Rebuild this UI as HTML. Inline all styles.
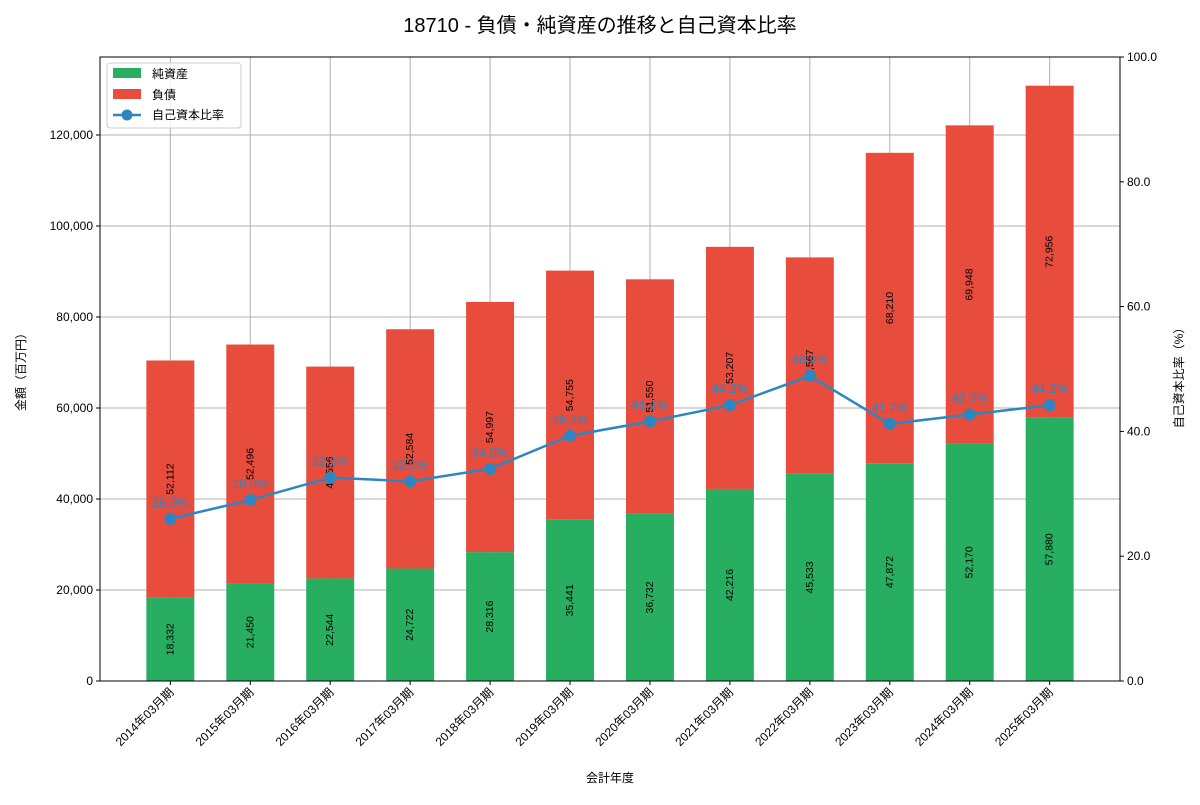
<!DOCTYPE html>
<html><head><meta charset="utf-8"><style>
body{margin:0;background:#fff;}
text{font-family:"Liberation Sans","Noto Sans CJK JP",sans-serif;}
</style></head><body>
<svg id="chart" width="1200" height="800" xmlns="http://www.w3.org/2000/svg"></svg>
<script>
const categories=["2014年03月期","2015年03月期","2016年03月期","2017年03月期","2018年03月期","2019年03月期","2020年03月期","2021年03月期","2022年03月期","2023年03月期","2024年03月期","2025年03月期"];
const equity=[18332,21450,22544,24722,28316,35441,36732,42216,45533,47872,52170,57880];
const liabilities=[52112,52496,46556,52584,54997,54755,51550,53207,47567,68210,69948,72956];
const ratio=[26.0,29.0,32.6,32.0,34.0,39.3,41.6,44.2,48.9,41.2,42.7,44.2];
const leftTicks=[0,20000,40000,60000,80000,100000,120000];
const rightTicks=[0,20,40,60,80,100];

const svg=document.getElementById('chart');
const NS='http://www.w3.org/2000/svg';
const L=100,R=1120,T=57,B=681;
const yMax=137143;
const y=v=>B-(v/yMax)*(B-T);
const y2=v=>B-(v/100)*(B-T);
const x0=-0.88,x1=11.88;
const x=i=>L+(i-x0)/(x1-x0)*(R-L);
const bw=0.6*(R-L)/(x1-x0);
function el(tag,attrs,parent){const e=document.createElementNS(NS,tag);for(const k in attrs)e.setAttribute(k,attrs[k]);(parent||svg).appendChild(e);return e;}
function txt(s,attrs){const t=el('text',attrs);t.textContent=s;return t;}

// title
let t=txt("18710 - 負債・純資産の推移と自己資本比率",{x:600,y:32,'text-anchor':'middle','font-size':20,fill:'#000'});



// grid
leftTicks.forEach(v=>{const g=el('line',{x1:L,x2:R,y1:y(v),y2:y(v),stroke:'#b0b0b0','stroke-width':1});

});
categories.forEach((c,i)=>{const g=el('line',{x1:x(i),x2:x(i),y1:T,y2:B,stroke:'#b0b0b0','stroke-width':1});

});

// bars
categories.forEach((c,i)=>{
  const cx=x(i);
  const g=el('rect',{x:cx-bw/2,y:y(equity[i]),width:bw,height:B-y(equity[i]),fill:'#27ae60'});
  
  
  const r=el('rect',{x:cx-bw/2,y:y(equity[i]+liabilities[i]),width:bw,height:y(equity[i])-y(equity[i]+liabilities[i]),fill:'#e74c3c'});
  
  
  const my=y(equity[i]/2);
  let a=txt(equity[i].toLocaleString('en-US'),{x:cx,y:my,'font-size':10.5,'text-anchor':'middle','dominant-baseline':'central',transform:`rotate(-90 ${cx} ${my})`});
  
  
  const ly=y(equity[i]+liabilities[i]/2);
  let b=txt(liabilities[i].toLocaleString('en-US'),{x:cx,y:ly,'font-size':10.5,'text-anchor':'middle','dominant-baseline':'central',transform:`rotate(-90 ${cx} ${ly})`});
  
  
});

// line
const pts=ratio.map((v,i)=>x(i)+','+y2(v)).join(' ');
const pl=el('polyline',{points:pts,fill:'none',stroke:'#2e86c1','stroke-width':2.5});


ratio.forEach((v,i)=>{
  const c=el('circle',{cx:x(i),cy:y2(v),r:6,fill:'#2e86c1'});
  
  
  const l=txt(v.toFixed(1)+'%',{x:x(i),y:y2(v)-12,'font-size':13,'text-anchor':'middle',fill:'#2e86c1'});
  
  
});

// axes frame
const fr=el('rect',{x:L,y:T,width:R-L,height:B-T,fill:'none',stroke:'#000','stroke-width':1});



leftTicks.forEach(v=>{
  el('line',{x1:L-4,x2:L,y1:y(v),y2:y(v),stroke:'#000'});
  const l=txt(v.toLocaleString('en-US'),{x:L-7,y:y(v)+4,'font-size':12,'text-anchor':'end'});
  
  
});
rightTicks.forEach(v=>{
  el('line',{x1:R,x2:R+4,y1:y2(v),y2:y2(v),stroke:'#000'});
  const l=txt(v.toFixed(1),{x:R+7,y:y2(v)+4,'font-size':12,'text-anchor':'start'});
  
  
});
categories.forEach((c,i)=>{
  el('line',{x1:x(i),x2:x(i),y1:B,y2:B+4,stroke:'#000'});
  const tx=x(i)+4,ty=B+12;
  const l=txt(c,{x:tx,y:ty,'font-size':12,'text-anchor':'end',transform:`rotate(-45 ${tx} ${ty})`});
  
  
});

let xl=txt('会計年度',{x:610,y:782,'font-size':12,'text-anchor':'middle'});


let yl=txt('金額（百万円）',{x:25,y:369,'font-size':12,'text-anchor':'middle',transform:'rotate(-90 25 369)'});


let yr=txt('自己資本比率（%）',{x:1183,y:375,'font-size':12,'text-anchor':'middle',transform:'rotate(-90 1183 375)'});



// legend
const lg=el('g',{});


el('rect',{x:107,y:63,width:134,height:65,fill:'#fff','fill-opacity':0.8,stroke:'#ccc',rx:3},lg);
el('rect',{x:113,y:68,width:28,height:10,fill:'#27ae60'},lg);
let e1=el('text',{x:152,y:78,'font-size':12},lg);e1.textContent='純資産';


el('rect',{x:113,y:89,width:28,height:10,fill:'#e74c3c'},lg);
let e2=el('text',{x:152,y:99,'font-size':12},lg);e2.textContent='負債';


el('line',{x1:113,x2:141,y1:115,y2:115,stroke:'#2e86c1','stroke-width':2.5},lg);
el('circle',{cx:127,cy:115,r:5.5,fill:'#2e86c1'},lg);
let e3=el('text',{x:152,y:119,'font-size':12},lg);e3.textContent='自己資本比率';


</script>
</body></html>
